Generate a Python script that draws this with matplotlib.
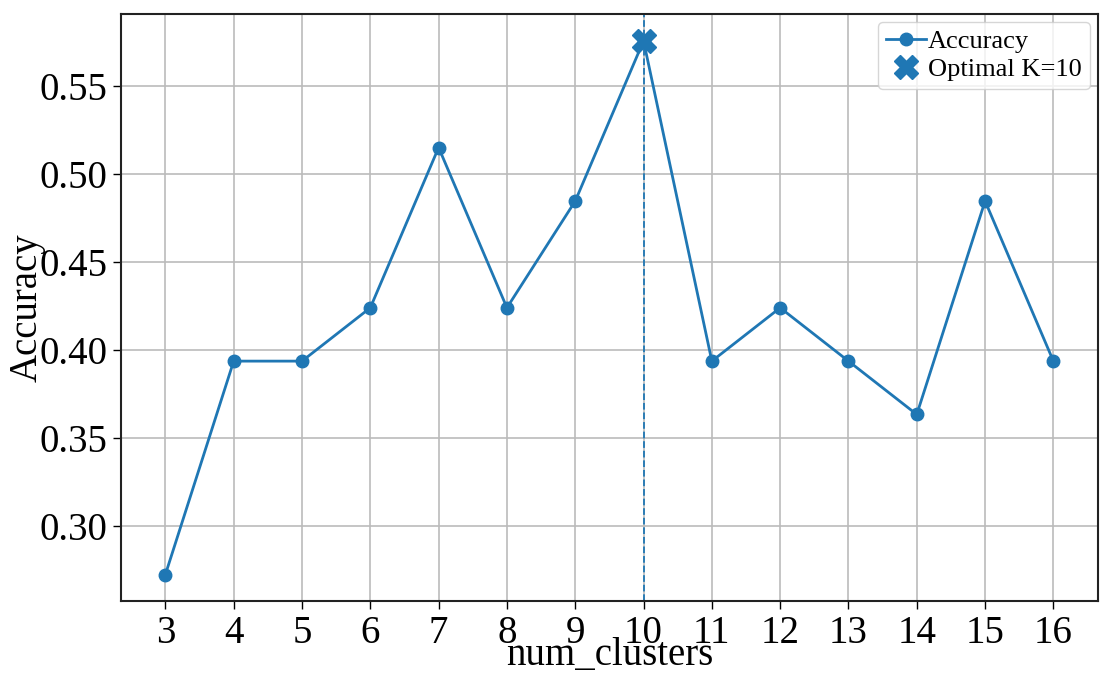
import matplotlib
matplotlib.use("Agg")
import matplotlib.pyplot as plt

# accuracy per number of clusters
num_clusters = [3, 4, 5, 6, 7, 8, 9, 10, 11, 12, 13, 14, 15, 16]
accuracy = [0.2727, 0.3939, 0.3939, 0.4242, 0.5152, 0.4242, 0.4848,
            0.5758, 0.3939, 0.4242, 0.3939, 0.3636, 0.4848, 0.3939]
best_k = 10
best_acc = 0.5758

plt.rcParams['font.family'] = ['Liberation Serif', 'DejaVu Serif']

fig = plt.figure(figsize=(11.1, 6.74), dpi=100)
ax = fig.add_axes([0.109, 0.108, 0.88, 0.871])

ax.plot(num_clusters, accuracy, 'o-', color='#1f77b4', linewidth=2, markersize=9, label='Accuracy')
ax.axvline(best_k, color='#1f77b4', linestyle='--', linewidth=1.3)
ax.plot([best_k], [best_acc], 'X', color='#1f77b4', markersize=17, linestyle='none',
        label=f'Optimal K={best_k}')

ax.set_xticks(num_clusters)
ax.set_yticks([0.30, 0.35, 0.40, 0.45, 0.50, 0.55])
ax.grid(True, color='#bbbbbb', linewidth=1.2)
ax.set_axisbelow(True)
ax.tick_params(labelsize=28, length=6, width=1)
ax.tick_params(axis='x', pad=4)
for s in ax.spines.values():
    s.set_linewidth(1.5)
    s.set_color('#222222')

ax.set_xlabel('num_clusters', fontsize=28, labelpad=-11)
ax.set_ylabel('Accuracy', fontsize=28, labelpad=-4)
ax.legend(loc='upper right', fontsize=19, handlelength=1.5, handletextpad=0.1,
          borderpad=0.3, labelspacing=0.15, borderaxespad=0.3)

fig.savefig('out.png', dpi=100)
